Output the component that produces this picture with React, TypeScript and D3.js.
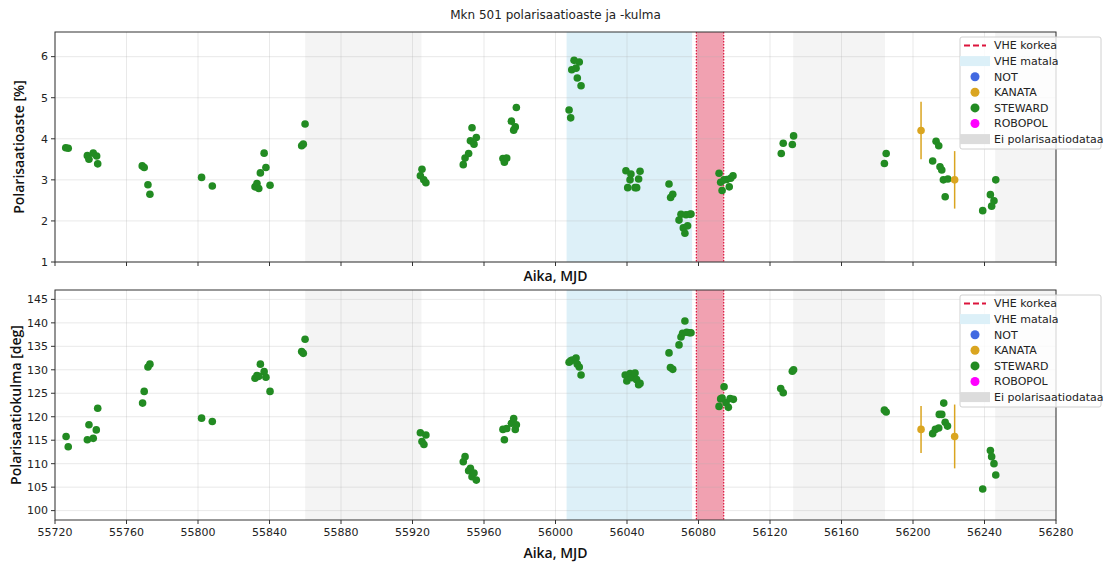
import React from "react";
import * as d3 from "d3";

const TITLE = "Mkn 501 polarisaatioaste ja -kulma";
const X_TICKS = [55720, 55760, 55800, 55840, 55880, 55920, 55960, 56000, 56040, 56080, 56120, 56160, 56200, 56240, 56280];
const P_TICKS = [1, 2, 3, 4, 5, 6];
const A_TICKS = [100, 105, 110, 115, 120, 125, 130, 135, 140, 145];

// Shaded periods (MJD)
const NO_DATA = [[55860, 55925], [56133, 56184.3], [56246, 56280]];
const VHE_LOW = [[56006.2, 56076.4]];
const VHE_HIGH = [[56078.8, 56094.1]];

// STEWARD polarisation degree [%]
const STEWARD_P_MJD = [55726.0, 55727.4, 55738.1, 55739.0, 55741.4, 55743.3, 55743.9, 55768.8, 55769.9, 55772.0, 55773.1, 55802.0, 55808.0, 55831.9, 55833.0, 55834.0, 55834.9, 55837.0, 55838.0, 55840.3, 55858.0, 55858.9, 55859.9,
  55924.4, 55925.3, 55926.3, 55927.5, 55948.4, 55949.4, 55951.4, 55953.3, 55952.4, 55954.4, 55955.7, 55970.6, 55971.4, 55972.7, 55975.3, 55976.6, 55977.5, 55978.1,
  56007.6, 56008.5, 56009.1, 56010.4, 56011.5, 56013.3, 56012.2, 56014.3, 56039.4, 56041.7, 56042.2, 56040.4, 56044.5, 56045.4, 56046.5, 56047.3,
  56063.5, 56064.4, 56065.6, 56069.1, 56070.2, 56071.5, 56072.4, 56073.0, 56073.9, 56075.2, 56075.8,
  56091.5, 56092.4, 56093.2, 56094.3, 56095.8, 56097.2, 56098.0, 56099.3, 56126.3, 56127.4, 56132.5, 56133.2, 56184.0, 56185.0,
  56211.0, 56212.9, 56214.4, 56215.1, 56216.1, 56217.0, 56219.5, 56218.0, 56239.0, 56243.3, 56244.0, 56245.3, 56246.3];
const STEWARD_P = [3.78, 3.77, 3.59, 3.50, 3.65, 3.58, 3.39, 3.34, 3.30, 2.88, 2.65, 3.06, 2.85, 2.83, 2.91, 2.79, 3.17, 3.65, 3.30, 2.87, 3.83, 3.87, 4.36,
  3.10, 3.26, 3.00, 2.93, 3.37, 3.53, 3.64, 4.27, 3.95, 3.87, 4.03, 3.52, 3.43, 3.53, 4.43, 4.21, 4.29, 4.76,
  4.70, 4.51, 5.68, 5.91, 5.72, 5.87, 5.48, 5.29, 3.22, 3.00, 3.14, 2.81, 2.81, 2.81, 3.02, 3.21,
  2.90, 2.57, 2.65, 2.02, 2.16, 1.83, 1.70, 2.15, 1.88, 2.16, 2.17,
  3.16, 2.94, 2.74, 3.00, 3.01, 2.83, 3.04, 3.10, 3.64, 3.89, 3.86, 4.07, 3.40, 3.64,
  3.46, 3.94, 3.83, 3.32, 3.24, 3.00, 3.02, 2.59, 2.25, 2.64, 2.36, 2.49, 3.00];

// STEWARD polarisation angle [deg]
const STEWARD_A_MJD = [55726.2, 55727.4, 55738.1, 55739.0, 55741.4, 55743.1, 55743.9, 55769.0, 55769.9, 55772.0, 55773.1, 55802.0, 55808.0, 55831.9, 55833.0, 55834.0, 55834.9, 55837.0, 55838.0, 55840.3, 55858.0, 55858.9, 55859.9,
  55924.4, 55925.3, 55926.4, 55927.5, 55948.4, 55949.4, 55951.4, 55952.4, 55953.3, 55954.4, 55955.7, 55970.6, 55971.4, 55972.7, 55975.3, 55976.6, 55977.5, 55978.1,
  56007.6, 56008.5, 56009.4, 56011.5, 56012.2, 56013.3, 56014.3, 56039.0, 56039.9, 56041.7, 56042.6, 56044.5, 56045.4, 56046.5, 56047.3,
  56063.5, 56064.3, 56065.6, 56069.1, 56070.2, 56071.1, 56072.4, 56073.4, 56074.9, 56075.8,
  56091.5, 56092.4, 56093.2, 56094.3, 56095.4, 56096.7, 56097.7, 56099.5, 56126.0, 56127.4, 56132.5, 56133.2, 56184.0, 56185.0,
  56211.0, 56212.5, 56214.4, 56214.7, 56216.1, 56217.2, 56218.0, 56219.3, 56239.0, 56243.3, 56244.0, 56245.3, 56246.3];
const STEWARD_A = [115.8, 113.6, 115.1, 118.3, 115.4, 117.2, 121.8, 122.9, 125.4, 130.6, 131.2, 119.7, 119.0, 128.2, 128.8, 128.6, 131.2, 129.6, 128.4, 125.4, 133.9, 133.5, 136.5,
  116.6, 114.7, 114.1, 116.1, 110.4, 111.5, 108.5, 109.0, 107.2, 108.0, 106.5, 117.3, 115.1, 117.5, 118.6, 119.6, 117.3, 118.3,
  131.6, 131.9, 132.1, 132.5, 131.2, 130.6, 128.9, 128.9, 127.6, 129.2, 128.3, 129.3, 127.9, 126.8, 127.1,
  133.6, 130.5, 130.1, 135.3, 137.0, 137.8, 140.4, 138.0, 137.9, 137.9,
  122.2, 123.8, 124.0, 126.4, 123.0, 122.0, 123.9, 123.7, 126.0, 125.1, 129.7, 130.0, 121.4, 121.0,
  116.4, 117.3, 117.6, 120.5, 120.5, 122.9, 118.8, 118.0, 104.6, 112.8, 111.5, 110.0, 107.6];

// KANATA
const KANATA_MJD = [56204.5, 56223.3];
const KANATA_P = [4.20, 3.00];
const KANATA_P_ERR = [0.70, 0.70];
const KANATA_A = [117.3, 115.8];
const KANATA_A_ERR = [5.0, 6.8];

const LEGEND = [
  { label: "VHE korkea", kind: "dash", color: "#dc143c" },
  { label: "VHE matala", kind: "patch", color: "#dcf0f8" },
  { label: "NOT", kind: "dot", color: "#4169e1" },
  { label: "KANATA", kind: "dot", color: "#daa520" },
  { label: "STEWARD", kind: "dot", color: "#228b22" },
  { label: "ROBOPOL", kind: "dot", color: "#ff00ff" },
  { label: "Ei polarisaatiodataa", kind: "patch", color: "#dcdcdc" },
];

const W = 1107, H = 564;
const L = 55, R = 1056;
const TICK_FONT = "DejaVu Sans, sans-serif";
const LABEL_FONT = "'Open Sans', 'Noto Sans', sans-serif";

const x = d3.scaleLinear().domain([55720, 56280]).range([L, R]);

function Panel({ top, bottom, yDomain, yTicks, yLabel, steward, stewardMjd, kanata, kanataErr, showXTickLabels, legendTop }) {
  const y = d3.scaleLinear().domain(yDomain).range([bottom, top]);
  const band = (spans, fill, key) => spans.map((s, i) => (
    <rect key={key + i} x={x(s[0])} y={top} width={x(s[1]) - x(s[0])} height={bottom - top} fill={fill} />
  ));
  return (
    <g>
      {band(NO_DATA, "#f4f4f4", "nd")}
      {band(VHE_LOW, "#ddf0f8", "vl")}
      {band(VHE_HIGH, "#f1a1b1", "vh")}
      {X_TICKS.map((t) => (
        <line key={"gx" + t} x1={x(t)} x2={x(t)} y1={top} y2={bottom} stroke="#b0b0b0" strokeOpacity={0.35} strokeWidth={0.8} />
      ))}
      {yTicks.map((t) => (
        <line key={"gy" + t} x1={L} x2={R} y1={y(t)} y2={y(t)} stroke="#b0b0b0" strokeOpacity={0.35} strokeWidth={0.8} />
      ))}
      {VHE_HIGH.map((s, i) => (
        <g key={"vhl" + i}>
          <line x1={x(s[0])} x2={x(s[0])} y1={top} y2={bottom} stroke="#dc143c" strokeWidth={1.2} strokeDasharray="1.5,1.5" />
          <line x1={x(s[1])} x2={x(s[1])} y1={top} y2={bottom} stroke="#dc143c" strokeWidth={1.2} strokeDasharray="1.5,1.5" />
        </g>
      ))}
      {steward.map((v, i) => (
        <circle key={"s" + i} cx={x(stewardMjd[i])} cy={y(v)} r={3.8} fill="#228b22" />
      ))}
      {kanata.map((v, i) => (
        <g key={"k" + i}>
          <line x1={x(KANATA_MJD[i])} x2={x(KANATA_MJD[i])} y1={y(v - kanataErr[i])} y2={y(v + kanataErr[i])} stroke="#daa520" strokeWidth={1.5} />
          <circle cx={x(KANATA_MJD[i])} cy={y(v)} r={3.8} fill="#daa520" />
        </g>
      ))}
      <rect x={L} y={top} width={R - L} height={bottom - top} fill="none" stroke="#333" strokeWidth={1} />
      {X_TICKS.map((t) => (
        <g key={"xt" + t}>
          <line x1={x(t)} x2={x(t)} y1={bottom} y2={bottom + 4} stroke="#333" />
          {showXTickLabels && (
            <text x={x(t)} y={bottom + 16} textAnchor="middle" fontSize={11} fontFamily={TICK_FONT} fill="#222">{t}</text>
          )}
        </g>
      ))}
      {yTicks.map((t) => (
        <g key={"yt" + t}>
          <line x1={L - 4} x2={L} y1={y(t)} y2={y(t)} stroke="#333" />
          <text x={L - 7} y={y(t)} dy="0.35em" textAnchor="end" fontSize={11} fontFamily={TICK_FONT} fill="#222">{t}</text>
        </g>
      ))}
      <text x={(L + R) / 2} y={showXTickLabels ? bottom + 38 : bottom + 19} textAnchor="middle" fontSize={14} fontWeight={600} fontFamily={LABEL_FONT} fill="#111">Aika, MJD</text>
      <text transform={`translate(${showXTickLabels ? 16 : 19},${(top + bottom) / 2}) rotate(-90)`} textAnchor="middle" dy="0.35em" fontSize={14} fontWeight={600} fontFamily={LABEL_FONT} fill="#111">{yLabel}</text>
      <g transform={`translate(960,${legendTop})`}>
        <rect x={0} y={0} width={141} height={112} rx={2} fill="white" fillOpacity={0.8} stroke="#d0d0d0" />
        {LEGEND.map((e, i) => {
          const cy = 8.5 + i * 15.6;
          return (
            <g key={e.label}>
              {e.kind === "dash" && <line x1={4} x2={26} y1={cy} y2={cy} stroke={e.color} strokeWidth={1.8} strokeDasharray="6,3" />}
              {e.kind === "patch" && <rect x={0} y={cy - 5} width={30} height={10} fill={e.color} />}
              {e.kind === "dot" && <circle cx={15} cy={cy} r={4.5} fill={e.color} />}
              <text x={34} y={cy} dy="0.35em" fontSize={11} fontFamily={TICK_FONT} fill="#222">{e.label}</text>
            </g>
          );
        })}
      </g>
    </g>
  );
}

export default function App() {
  return (
    <svg width={W} height={H} style={{ position: "absolute", left: 0, top: 0, background: "white" }}>
      <text x={(L + R) / 2} y={19} textAnchor="middle" fontSize={12} fontFamily={TICK_FONT} fill="#222">{TITLE}</text>
      <Panel top={32} bottom={262} yDomain={[1, 6.6]} yTicks={P_TICKS} yLabel="Polarisaatioaste [%]"
        steward={STEWARD_P} stewardMjd={STEWARD_P_MJD} kanata={KANATA_P} kanataErr={KANATA_P_ERR} showXTickLabels={false} legendTop={37} />
      <Panel top={290} bottom={520} yDomain={[98, 147]} yTicks={A_TICKS} yLabel="Polarisaatiokulma [deg]"
        steward={STEWARD_A} stewardMjd={STEWARD_A_MJD} kanata={KANATA_A} kanataErr={KANATA_A_ERR} showXTickLabels={true} legendTop={295} />
    </svg>
  );
}
